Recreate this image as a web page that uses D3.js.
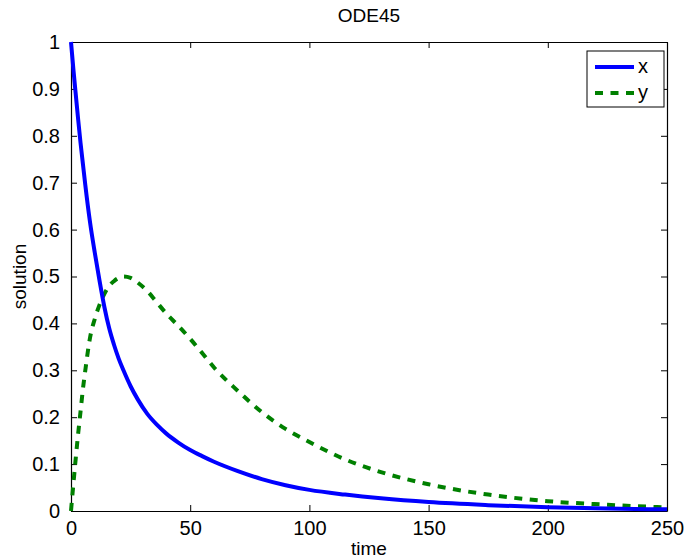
<!DOCTYPE html>
<html>
<head>
<meta charset="utf-8">
<script src="https://cdn.jsdelivr.net/npm/d3@7"></script>
<style>
  body { margin: 0; background: #fff; }
  text { font-family: "Liberation Sans", Arial, sans-serif; fill: #000; }
</style>
</head>
<body>
<div id="chart-area"></div>
<script>
// solution
const time = [0, 1, 2, 3, 4, 5, 6, 8, 10, 12, 14, 16, 18, 20, 22, 25, 28, 32, 36, 40,
  45, 50, 55, 60, 70, 80, 90, 100, 115, 130, 150, 175, 200, 225, 250];
const xValues = [1.0, 0.942, 0.888, 0.835, 0.785, 0.74, 0.695, 0.615, 0.55, 0.49, 0.435,
  0.39, 0.355, 0.325, 0.30, 0.266, 0.238, 0.207, 0.184, 0.165, 0.146, 0.13, 0.117,
  0.105, 0.085, 0.068, 0.055, 0.045, 0.035, 0.027, 0.019, 0.0125, 0.0078, 0.0052, 0.0035];
const yValues = [0, 0.058, 0.113, 0.165, 0.212, 0.26, 0.30, 0.37, 0.41, 0.44, 0.463,
  0.48, 0.49, 0.497, 0.5, 0.497, 0.487, 0.469, 0.445, 0.421, 0.395, 0.367, 0.337,
  0.306, 0.256, 0.211, 0.175, 0.147, 0.11, 0.083, 0.057, 0.035, 0.021, 0.0133, 0.0076];
const xTicks = [0, 50, 100, 150, 200, 250];
const yTicks = [0, 0.1, 0.2, 0.3, 0.4, 0.5, 0.6, 0.7, 0.8, 0.9, 1];
const seriesNames = ["x", "y"];

const margin = {top: 42, right: 19, bottom: 48, left: 71};
const width = 686 - margin.left - margin.right;
const height = 559 - margin.top - margin.bottom;
const tickLen = 6;

const svg = d3.select("#chart-area").append("svg")
    .attr("width", 686)
    .attr("height", 559);

const g = svg.append("g")
    .attr("transform", "translate(" + margin.left + ", " + margin.top + ")");

const x = d3.scaleLinear().domain([0, 250]).range([0, width]);
const y = d3.scaleLinear().domain([0, 1]).range([height, 0]);

// axes with inward ticks on all four sides
const fmt = (d) => d3.format("~g")(d);
const axisB = g.append("g").attr("transform", "translate(0," + height + ")")
    .call(d3.axisBottom(x).tickValues(xTicks).tickSizeInner(-tickLen).tickSizeOuter(0).tickPadding(10).tickFormat(fmt));
const axisT = g.append("g")
    .call(d3.axisTop(x).tickValues(xTicks).tickSizeInner(-tickLen).tickSizeOuter(0).tickFormat(""));
const axisL = g.append("g")
    .call(d3.axisLeft(y).tickValues(yTicks).tickSizeInner(-tickLen).tickSizeOuter(0).tickPadding(11).tickFormat(fmt));
const axisR = g.append("g").attr("transform", "translate(" + width + ",0)")
    .call(d3.axisRight(y).tickValues(yTicks).tickSizeInner(-tickLen).tickSizeOuter(0).tickFormat(""));

[axisB, axisT, axisL, axisR].forEach((a) => {
  a.select(".domain").attr("stroke", "#000").attr("stroke-width", 1.2);
  a.selectAll(".tick line").attr("stroke", "#000");
  a.selectAll(".tick text").attr("font-size", 20).attr("font-family", "Liberation Sans, Arial, sans-serif");
});

// data lines
const pts = (vals) => time.map((t, i) => [t, vals[i]]);
const line = d3.line().x((d) => x(d[0])).y((d) => y(d[1])).curve(d3.curveMonotoneX);

g.append("path")
    .attr("d", line(pts(yValues)))
    .attr("fill", "none")
    .attr("stroke", "#008000")
    .attr("stroke-width", 4)
    .attr("stroke-dasharray", "8,7.5");

g.append("path")
    .attr("d", line(pts(xValues)))
    .attr("fill", "none")
    .attr("stroke", "#0000ff")
    .attr("stroke-width", 4);

// title and labels
svg.append("text")
    .attr("x", margin.left + width / 2)
    .attr("y", 22)
    .attr("text-anchor", "middle")
    .attr("font-size", 19)
    .text("ODE45");

svg.append("text")
    .attr("x", margin.left + width / 2)
    .attr("y", 555)
    .attr("text-anchor", "middle")
    .attr("font-size", 19)
    .text("time");

svg.append("text")
    .attr("transform", "translate(26," + (margin.top + height / 2) + ") rotate(-90)")
    .attr("text-anchor", "middle")
    .attr("font-size", 19)
    .text("solution");

// legend
const legend = svg.append("g").attr("transform", "translate(587,51)");
legend.append("rect")
    .attr("width", 77).attr("height", 56)
    .attr("fill", "#fff").attr("stroke", "#000").attr("stroke-width", 1);

const styles = [
  {color: "#0000ff", dash: null},
  {color: "#008000", dash: "8,7.5"}
];
seriesNames.forEach((name, i) => {
  const ly = 16 + i * 26;
  legend.append("line")
      .attr("x1", 8).attr("x2", 47)
      .attr("y1", ly).attr("y2", ly)
      .attr("stroke", styles[i].color)
      .attr("stroke-width", 4)
      .attr("stroke-dasharray", styles[i].dash);
  legend.append("text")
      .attr("x", 51).attr("y", ly + 6)
      .attr("font-size", 20)
      .text(name);
});
</script>
</body>
</html>
